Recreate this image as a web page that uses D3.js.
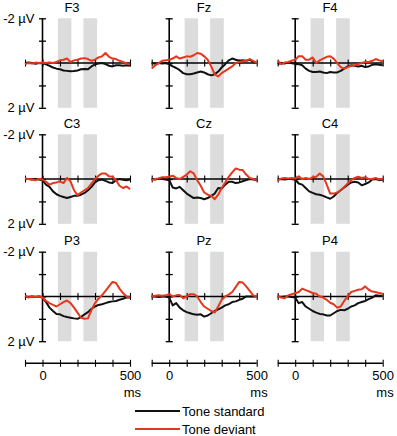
<!DOCTYPE html>
<html>
<head>
<meta charset="utf-8">
<script src="https://cdn.jsdelivr.net/npm/d3@7"></script>
<style>
  body { margin: 0; background: #fff; }
  svg { display: block; font-family: "Liberation Sans", Arial, sans-serif; }
</style>
</head>
<body>
<svg id="canvas"></svg>
<script>
// time points (ms)
const timesMs = [-100, -80, -60, -40, -20, 0, 20, 40, 60, 80, 100, 120, 140, 160, 180, 200,
  220, 240, 260, 280, 300, 320, 340, 360, 380, 400, 420, 440, 460, 480, 500];

const channels = ["F3", "Fz", "F4", "C3", "Cz", "C4", "P3", "Pz", "P4"];

// grey analysis windows (ms)
const windowsMs = [[88, 165], [234, 312]];

// microvolts, positive plotted downwards
const stdF3 = [0.0, -0.02, 0.0, 0.03, 0.0, 0.0, 0.06, 0.12, 0.2, 0.25, 0.28, 0.33, 0.35, 0.37, 0.36, 0.33, 0.28, 0.27, 0.28, 0.15, 0.06, 0.02, 0.0, 0.05, 0.12, 0.15, 0.1, 0.1, 0.12, 0.1, 0.12];
const devF3 = [0.05, 0.0, 0.02, -0.02, 0.0, -0.02, 0.0, -0.03, 0.0, -0.05, -0.12, -0.15, -0.2, -0.05, -0.12, -0.15, -0.2, -0.22, -0.18, -0.1, -0.15, -0.25, -0.3, -0.45, -0.28, -0.2, -0.18, -0.1, -0.05, 0.02, 0.07];
const stdFz = [0.0, 0.03, 0.0, 0.02, 0.0, 0.05, 0.15, 0.22, 0.32, 0.45, 0.5, 0.5, 0.47, 0.42, 0.38, 0.42, 0.5, 0.55, 0.5, 0.38, 0.2, 0.05, -0.12, -0.2, -0.15, -0.1, -0.12, -0.1, -0.15, -0.05, 0.0];
const devFz = [0.25, 0.1, 0.0, -0.1, -0.12, -0.15, -0.2, -0.3, -0.2, -0.25, -0.3, -0.28, -0.35, -0.45, -0.42, -0.3, -0.15, 0.15, 0.5, 0.6, 0.45, 0.35, 0.25, 0.15, 0.0, -0.05, -0.08, -0.1, -0.18, -0.1, 0.0];
const stdF4 = [0.05, 0.0, 0.02, -0.02, 0.0, 0.03, 0.05, 0.1, 0.25, 0.35, 0.4, 0.4, 0.38, 0.42, 0.45, 0.4, 0.42, 0.42, 0.35, 0.25, 0.15, 0.1, 0.12, 0.15, 0.12, 0.18, 0.15, 0.08, 0.05, 0.08, 0.1];
const devF4 = [-0.1, 0.05, -0.02, -0.05, -0.1, -0.15, -0.3, -0.3, -0.15, -0.15, -0.25, 0.0, -0.12, -0.2, -0.28, -0.3, -0.2, 0.0, 0.18, 0.25, 0.18, 0.12, 0.1, 0.05, 0.0, -0.05, -0.05, -0.1, -0.18, -0.12, -0.08];
const stdC3 = [0.0, 0.0, 0.02, 0.0, 0.02, 0.05, 0.25, 0.35, 0.55, 0.68, 0.75, 0.8, 0.85, 0.8, 0.75, 0.75, 0.7, 0.62, 0.5, 0.35, 0.15, 0.05, 0.02, 0.08, 0.15, 0.18, 0.05, 0.0, 0.03, 0.05, 0.02];
const devC3 = [-0.02, 0.0, 0.02, 0.05, 0.0, 0.02, 0.12, 0.25, 0.18, 0.15, 0.1, 0.18, -0.05, 0.1, 0.5, 0.72, 0.6, 0.5, 0.4, 0.2, 0.0, -0.15, -0.25, -0.25, -0.12, -0.1, 0.05, 0.3, 0.4, 0.33, 0.45];
const stdCz = [0.0, 0.02, -0.02, 0.0, 0.02, 0.05, 0.38, 0.42, 0.35, 0.5, 0.65, 0.75, 0.85, 0.82, 0.85, 0.9, 0.85, 0.75, 0.65, 0.4, 0.42, 0.25, 0.12, 0.12, 0.18, 0.15, 0.1, 0.05, 0.0, 0.02, 0.05];
const devCz = [0.05, 0.0, -0.03, -0.08, -0.08, -0.1, -0.15, -0.05, 0.0, -0.1, -0.2, -0.35, -0.25, 0.05, 0.3, 0.6, 0.7, 0.75, 0.9, 0.7, 0.4, 0.15, -0.1, -0.3, -0.47, -0.42, -0.4, -0.2, -0.05, 0.0, 0.05];
const stdC4 = [0.02, 0.0, 0.02, 0.0, 0.0, 0.02, 0.2, 0.25, 0.4, 0.55, 0.62, 0.68, 0.7, 0.75, 0.82, 0.88, 0.78, 0.62, 0.5, 0.38, 0.25, 0.15, 0.12, 0.15, 0.28, 0.22, 0.15, 0.02, 0.0, 0.05, 0.03];
const devC4 = [0.05, -0.02, -0.05, -0.03, -0.05, -0.02, -0.12, 0.0, -0.05, 0.0, -0.08, -0.1, -0.25, -0.12, 0.25, 0.65, 0.65, 0.6, 0.5, 0.35, 0.2, 0.05, -0.05, -0.1, -0.05, -0.08, 0.0, 0.0, -0.05, 0.02, 0.0];
const stdP3 = [0.0, 0.02, 0.0, 0.02, 0.0, 0.05, 0.25, 0.5, 0.65, 0.78, 0.8, 0.88, 0.92, 0.95, 0.98, 1.0, 0.92, 0.8, 0.7, 0.55, 0.45, 0.38, 0.35, 0.3, 0.25, 0.22, 0.2, 0.15, 0.1, 0.05, 0.05];
const devP3 = [-0.03, 0.05, 0.0, 0.02, 0.0, 0.05, 0.2, 0.3, 0.38, 0.45, 0.35, 0.25, 0.18, 0.3, 0.5, 0.72, 0.95, 1.0, 0.98, 0.6, 0.3, 0.1, -0.05, -0.25, -0.45, -0.65, -0.6, -0.35, -0.15, 0.0, 0.05];
const stdPz = [0.0, 0.0, 0.02, 0.0, 0.0, 0.05, 0.4, 0.3, 0.5, 0.62, 0.7, 0.75, 0.8, 0.82, 0.8, 0.9, 0.85, 0.75, 0.65, 0.58, 0.5, 0.4, 0.35, 0.25, 0.22, 0.15, 0.1, 0.0, 0.0, 0.0, 0.0];
const devPz = [0.0, -0.03, -0.05, -0.03, -0.05, -0.1, 0.0, -0.05, -0.07, 0.08, 0.0, -0.1, -0.1, 0.0, 0.25, 0.45, 0.55, 0.65, 0.72, 0.45, 0.15, 0.0, -0.08, -0.2, -0.42, -0.65, -0.62, -0.45, -0.25, -0.05, 0.0];
const stdP4 = [0.0, 0.02, 0.0, 0.0, 0.02, 0.05, 0.3, 0.25, 0.45, 0.55, 0.65, 0.72, 0.78, 0.8, 0.85, 0.85, 0.75, 0.65, 0.6, 0.62, 0.55, 0.45, 0.4, 0.3, 0.25, 0.2, 0.12, 0.05, -0.05, -0.03, -0.03];
const devP4 = [0.0, 0.05, 0.08, -0.05, -0.1, -0.15, -0.2, -0.35, -0.28, -0.22, -0.15, -0.12, 0.0, 0.05, 0.15, 0.28, 0.35, 0.5, 0.45, 0.2, 0.0, -0.2, -0.25, -0.3, -0.32, -0.45, -0.3, -0.22, -0.2, -0.15, -0.12];

const standard = [stdF3, stdFz, stdF4, stdC3, stdCz, stdC4, stdP3, stdPz, stdP4];
const deviant = [devF3, devFz, devF4, devC3, devCz, devC4, devP3, devPz, devP4];

const legendLabels = ["Tone standard", "Tone deviant"];
const colors = ["#111111", "#e8361c"];

const width = 397, height = 436;
const colLeft = [25, 151.7, 277.7];
const rowTop = [18.3, 134.3, 251.7];
const titleX = [72, 204, 330];
const panelW = 105, panelH = 89.5;
const fontSize = "13px";

const svg = d3.select("svg").attr("width", width).attr("height", height);

channels.forEach((name, i) => {
    const col = i % 3, row = Math.floor(i / 3);
    const x = d3.scaleLinear().domain([-100, 500]).range([colLeft[col], colLeft[col] + panelW]);
    const y = d3.scaleLinear().domain([-2, 2]).range([rowTop[row], rowTop[row] + panelH]);
    const g = svg.append("g").attr("class", "panel");

    // grey windows
    g.selectAll("rect.win")
        .data(windowsMs)
        .enter()
        .append("rect")
        .attr("x", d => x(d[0]))
        .attr("width", d => x(d[1]) - x(d[0]))
        .attr("y", y(-2))
        .attr("height", y(2) - y(-2))
        .attr("fill", "#dcdcdc")

    // y axis (ticks cross the line)
    const yAxis = d3.axisLeft(y).tickValues([-2, -1, 0, 1, 2]).tickSize(7).tickSizeOuter(0).tickFormat("");
    g.append("g")
        .attr("transform", "translate(" + (x(0) + 3.5) + ",0)")
        .call(yAxis)
        .call(a => a.select(".domain").remove())
        .selectAll("line").attr("stroke", "#000").attr("stroke-width", 1.3);
    g.append("line")
        .attr("x1", x(0)).attr("x2", x(0))
        .attr("y1", y(-2)).attr("y2", y(2))
        .attr("stroke", "#000").attr("stroke-width", 1.6);

    // x axis on zero line
    const xAxis = d3.axisBottom(x).tickValues([-100, 0, 100, 200, 300, 400, 500]).tickSize(7).tickSizeOuter(0).tickFormat("");
    g.append("g")
        .attr("transform", "translate(0," + (y(0) - 3.5) + ")")
        .call(xAxis)
        .call(a => a.select(".domain").remove())
        .selectAll("line").attr("stroke", "#000").attr("stroke-width", 1.1);
    g.append("line")
        .attr("x1", x(-100)).attr("x2", x(500))
        .attr("y1", y(0)).attr("y2", y(0))
        .attr("stroke", "#000").attr("stroke-width", 1.4);

    if (col === 0) {
        g.selectAll("text.ylab")
            .data([-2, 2])
            .enter()
            .append("text")
            .attr("x", x(0) - 8)
            .attr("y", d => y(d))
            .attr("dy", "0.35em")
            .attr("text-anchor", "end")
            .style("font-size", fontSize)
            .text(d => d + " µV")
    }

    g.append("text")
        .attr("x", titleX[col])
        .attr("y", rowTop[row] - 6.5)
        .attr("text-anchor", "middle")
        .style("font-size", fontSize)
        .text(name)

    const line = d3.line()
        .x((d, k) => x(timesMs[k]))
        .y(d => y(d));

    [standard[i], deviant[i]].forEach((series, s) => {
        g.append("path")
            .datum(series)
            .attr("d", line)
            .attr("fill", "none")
            .attr("stroke", colors[s])
            .attr("stroke-width", 2)
            .attr("stroke-linejoin", "round")
    });
});

// bottom time axes
colLeft.forEach((left) => {
    const x = d3.scaleLinear().domain([-100, 500]).range([left, left + panelW]);
    const axisY = 363.3;
    const tAxis = d3.axisBottom(x).tickValues([-100, 0, 100, 200, 300, 400, 500]).tickSize(7).tickSizeOuter(0)
        .tickPadding(4)
        .tickFormat(d => (d === 0 || d === 500) ? d : "");
    const a = svg.append("g")
        .attr("transform", "translate(0," + (axisY - 3.5) + ")")
        .call(tAxis)
        .call(a => a.select(".domain").remove());
    a.selectAll("line").attr("stroke", "#000").attr("stroke-width", 1.1);
    a.selectAll("text").style("font-size", fontSize).style("font-family", "Liberation Sans, Arial, sans-serif").attr("fill", "#000");
    svg.append("line")
        .attr("x1", x(-100)).attr("x2", x(500))
        .attr("y1", axisY).attr("y2", axisY)
        .attr("stroke", "#000").attr("stroke-width", 1.4);
    svg.append("text")
        .attr("x", x(500) + 11)
        .attr("y", 396.5)
        .attr("text-anchor", "end")
        .style("font-size", fontSize)
        .text("ms")
});

// legend
const legend = svg.append("g").attr("transform", "translate(135,411)");
legendLabels.forEach((label, i) => {
    legend.append("line")
        .attr("x1", 0).attr("x2", 45)
        .attr("y1", i * 18).attr("y2", i * 18)
        .attr("stroke", colors[i]).attr("stroke-width", 2)
    legend.append("text")
        .attr("x", 47)
        .attr("y", i * 18)
        .attr("dy", "0.35em")
        .style("font-size", fontSize)
        .text(label)
});
</script>
</body>
</html>
